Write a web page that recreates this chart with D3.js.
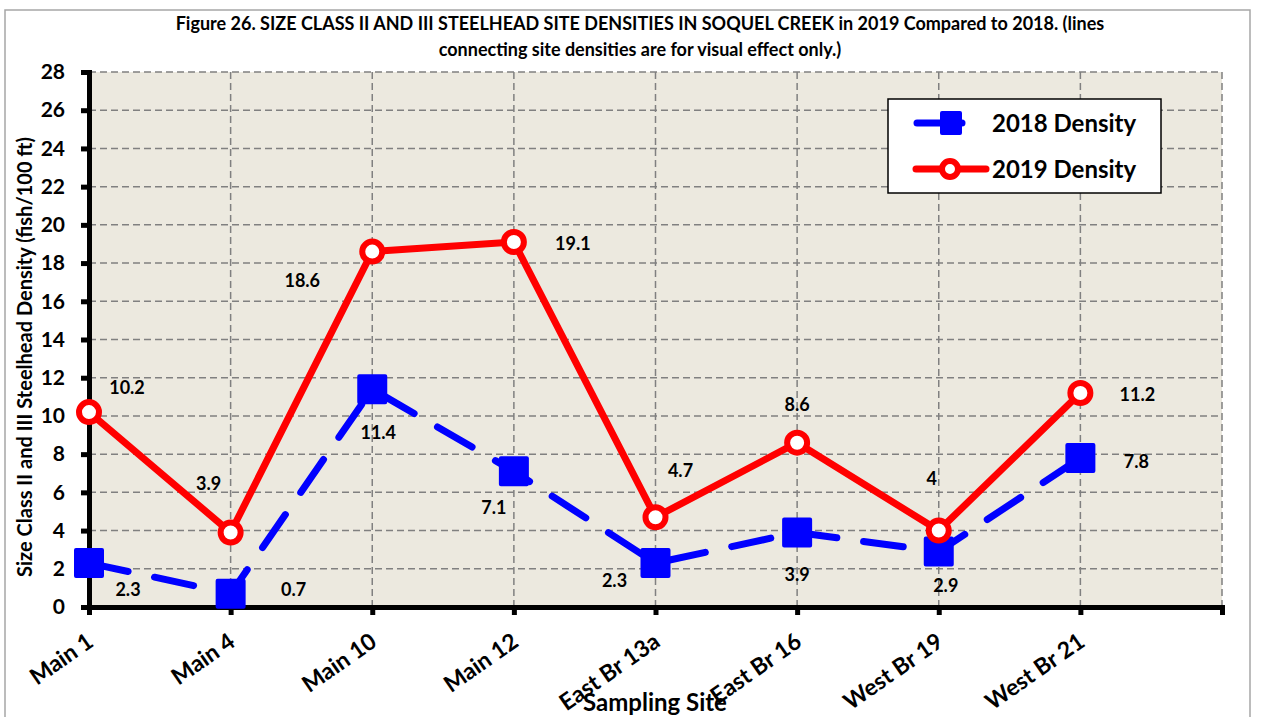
<!DOCTYPE html>
<html>
<head>
<meta charset="utf-8">
<script src="https://cdn.jsdelivr.net/npm/d3@7"></script>
<style>
  html, body { margin: 0; padding: 0; background: #fff; }
  svg text { font-family: Lato, "Open Sans", sans-serif; font-weight: bold; fill: #000; }
</style>
</head>
<body>
<div id="chart"></div>
<script>
// chart data
const sites = ['Main 1', 'Main 4', 'Main 10', 'Main 12', 'East Br 13a', 'East Br 16', 'West Br 19', 'West Br 21']
const density2018 = [2.3, 0.7, 11.4, 7.1, 2.3, 3.9, 2.9, 7.8]
const density2019 = [10.2, 3.9, 18.6, 19.1, 4.7, 8.6, 4, 11.2]
const yTicks = [0, 2, 4, 6, 8, 10, 12, 14, 16, 18, 20, 22, 24, 26, 28]
const titleLines = [
  'Figure 26. SIZE CLASS II AND III STEELHEAD SITE DENSITIES IN SOQUEL CREEK in 2019 Compared to 2018. (lines',
  'connecting site densities are for visual effect only.)'
]

// where each value label sits relative to its point (px)
const offsets2018 = [[39, 26], [63, -4], [6, 43], [-20, 36], [-41, 17], [0, 42], [7, 34], [56, 4]]
const offsets2019 = [[38, -25], [-22, -49], [-70, 29], [59, 1], [25, -47], [0, -38], [-7, -52], [57, 2]]

const width = 1264
const height = 717
const margin = { left: 89, right: 42, top: 72, bottom: 110 }

const svg = d3.select('#chart').append('svg')
  .attr('width', width)
  .attr('height', height)

// outer frame
svg.append('rect')
  .attr('x', 5).attr('y', 10)
  .attr('width', 1245).attr('height', 720)
  .attr('fill', '#fff')
  .attr('stroke', '#a6a6a6')
  .attr('stroke-width', 1.5)

// x scale has one empty slot at the end, like the excel chart
const xSlots = sites.concat([''])
const x = d3.scalePoint()
  .domain(d3.range(xSlots.length))
  .range([margin.left, width - margin.right])

const y = d3.scaleLinear()
  .domain([0, 28])
  .range([height - margin.bottom, margin.top])

// plot background
svg.append('rect')
  .attr('x', margin.left).attr('y', margin.top)
  .attr('width', width - margin.right - margin.left)
  .attr('height', y(0) - margin.top)
  .attr('fill', '#ece9df')

// grid lines
svg.append('g')
  .selectAll('line')
  .data(yTicks.slice(1))
  .join('line')
  .attr('x1', margin.left).attr('x2', width - margin.right)
  .attr('y1', (d) => y(d)).attr('y2', (d) => y(d))
  .attr('stroke', '#808080')
  .attr('stroke-width', 1.5)
  .attr('stroke-dasharray', '7,4')

svg.append('g')
  .selectAll('line')
  .data(d3.range(1, xSlots.length))
  .join('line')
  .attr('x1', (d) => x(d)).attr('x2', (d) => x(d))
  .attr('y1', margin.top).attr('y2', y(0))
  .attr('stroke', '#808080')
  .attr('stroke-width', 1.5)
  .attr('stroke-dasharray', '7,4')

// axes
const yAxis = svg.append('g')
  .attr('transform', 'translate(' + margin.left + ',0)')
  .call(d3.axisLeft(y).tickValues(yTicks).tickSize(8).tickPadding(16))
yAxis.select('.domain').attr('stroke', '#000').attr('stroke-width', 5)
yAxis.selectAll('.tick line').attr('stroke', '#000').attr('stroke-width', 5)
yAxis.selectAll('.tick text').style('font-size', '21px')
  .style('font-family', 'Lato, sans-serif').style('font-weight', 'bold')

const xAxis = svg.append('g')
  .attr('transform', 'translate(0,' + y(0) + ')')
  .call(d3.axisBottom(x).tickSize(8).tickFormat(''))
xAxis.select('.domain').attr('stroke', '#000').attr('stroke-width', 5)
xAxis.selectAll('.tick line').attr('stroke', '#000').attr('stroke-width', 5)

svg.append('g')
  .selectAll('text')
  .data(sites)
  .join('text')
  .attr('transform', (d, i) => 'translate(' + (x(i) + 6) + ',' + (y(0) + 38) + ') rotate(-35)')
  .attr('text-anchor', 'end')
  .style('font-size', '23px')
  .text((d) => d)

// series lines
const line = d3.line()
  .x((d, i) => x(i))
  .y((d) => y(d))

svg.append('path')
  .datum(density2018)
  .attr('d', line)
  .attr('fill', 'none')
  .attr('stroke', '#0000ff')
  .attr('stroke-width', 7)
  .attr('stroke-linecap', 'round')
  .attr('stroke-dasharray', '40,27')

svg.append('path')
  .datum(density2019)
  .attr('d', line)
  .attr('fill', 'none')
  .attr('stroke', '#ff0000')
  .attr('stroke-width', 7)
  .attr('stroke-linejoin', 'round')

// markers
svg.append('g')
  .selectAll('rect')
  .data(density2018)
  .join('rect')
  .attr('x', (d, i) => x(i) - 13)
  .attr('y', (d) => y(d) - 13)
  .attr('width', 26).attr('height', 26)
  .attr('fill', '#0000ff')
  .attr('stroke', '#0000ff')
  .attr('stroke-width', 4)
  .attr('stroke-linejoin', 'round')

svg.append('g')
  .selectAll('circle')
  .data(density2019)
  .join('circle')
  .attr('cx', (d, i) => x(i))
  .attr('cy', (d) => y(d))
  .attr('r', 10)
  .attr('fill', '#fff')
  .attr('stroke', '#ff0000')
  .attr('stroke-width', 6)

// value labels
function valueLabels(values, offsets) {
  svg.append('g')
    .selectAll('text')
    .data(values)
    .join('text')
    .attr('x', (d, i) => x(i) + offsets[i][0])
    .attr('y', (d, i) => y(d) + offsets[i][1])
    .attr('dy', '0.36em')
    .attr('text-anchor', 'middle')
    .style('font-size', '18px')
    .text((d) => d)
}
valueLabels(density2018, offsets2018)
valueLabels(density2019, offsets2019)

// titles
svg.append('g')
  .selectAll('text')
  .data(titleLines)
  .join('text')
  .attr('x', 640)
  .attr('y', (d, i) => 30 + i * 26)
  .attr('text-anchor', 'middle')
  .style('font-size', '18px')
  .text((d) => d)

svg.append('text')
  .attr('transform', 'translate(32,357) rotate(-90)')
  .attr('text-anchor', 'middle')
  .style('font-size', '20px')
  .text('Size Class II and III Steelhead Density (fish/100 ft)')

svg.append('text')
  .attr('x', 655)
  .attr('y', 711)
  .attr('text-anchor', 'middle')
  .style('font-size', '24px')
  .text('Sampling Site')

// legend
const legend = svg.append('g')
legend.append('rect')
  .attr('x', 888).attr('y', 99)
  .attr('width', 273).attr('height', 94)
  .attr('fill', '#fff')
  .attr('stroke', '#000')
  .attr('stroke-width', 1.5)

legend.append('line')
  .attr('x1', 917).attr('x2', 962).attr('y1', 123).attr('y2', 123)
  .attr('stroke', '#0000ff').attr('stroke-width', 7).attr('stroke-linecap', 'round')
legend.append('rect')
  .attr('x', 942).attr('y', 113).attr('width', 18).attr('height', 20)
  .attr('fill', '#0000ff').attr('stroke', '#0000ff')
  .attr('stroke-width', 4).attr('stroke-linejoin', 'round')

legend.append('line')
  .attr('x1', 916).attr('x2', 986).attr('y1', 169).attr('y2', 169)
  .attr('stroke', '#ff0000').attr('stroke-width', 7).attr('stroke-linecap', 'round')
legend.append('circle')
  .attr('cx', 950).attr('cy', 169).attr('r', 8)
  .attr('fill', '#fff').attr('stroke', '#ff0000').attr('stroke-width', 6)

legend.selectAll('text.lg')
  .data(['2018 Density', '2019 Density'])
  .join('text')
  .attr('class', 'lg')
  .attr('x', 992)
  .attr('y', (d, i) => 124 + i * 46)
  .attr('dy', '0.35em')
  .style('font-size', '24px')
  .text((d) => d)
</script>
</body>
</html>
